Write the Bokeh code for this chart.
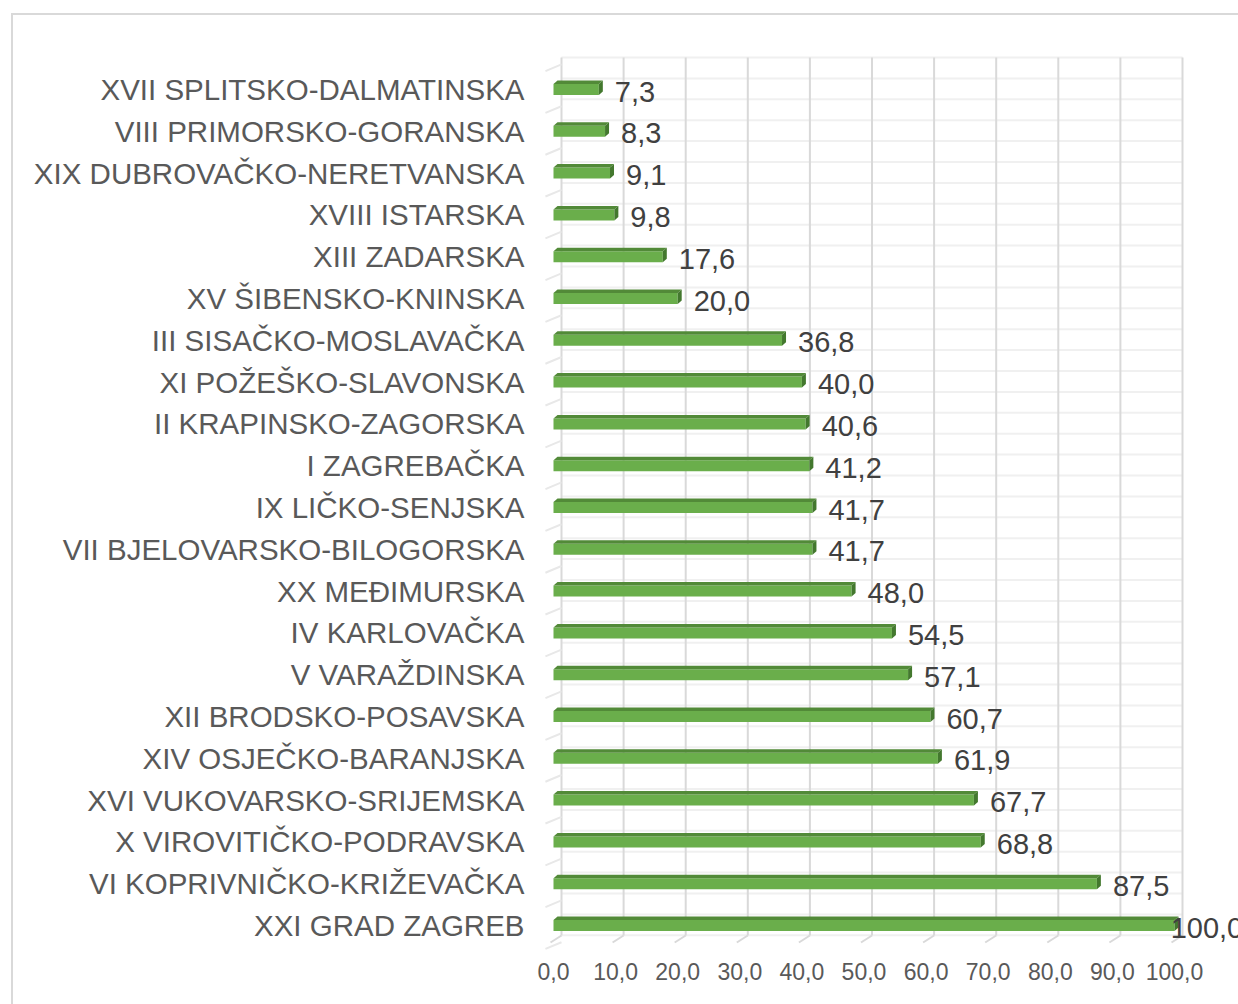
import numpy as np
from bokeh.plotting import figure
from bokeh.models import Range1d, FixedTicker, ColumnDataSource, InlineStyleSheet
from bokeh.core.properties import value
from bokeh.embed import file_html
from bokeh.resources import INLINE

# ---- data (top to bottom) ----
categories = [
    "XVII SPLITSKO-DALMATINSKA",
    "VIII PRIMORSKO-GORANSKA",
    "XIX DUBROVAČKO-NERETVANSKA",
    "XVIII ISTARSKA",
    "XIII ZADARSKA",
    "XV ŠIBENSKO-KNINSKA",
    "III SISAČKO-MOSLAVAČKA",
    "XI POŽEŠKO-SLAVONSKA",
    "II KRAPINSKO-ZAGORSKA",
    "I ZAGREBAČKA",
    "IX LIČKO-SENJSKA",
    "VII BJELOVARSKO-BILOGORSKA",
    "XX MEĐIMURSKA",
    "IV KARLOVAČKA",
    "V VARAŽDINSKA",
    "XII BRODSKO-POSAVSKA",
    "XIV OSJEČKO-BARANJSKA",
    "XVI VUKOVARSKO-SRIJEMSKA",
    "X VIROVITIČKO-PODRAVSKA",
    "VI KOPRIVNIČKO-KRIŽEVAČKA",
    "XXI GRAD ZAGREB",
]
values = [7.3, 8.3, 9.1, 9.8, 17.6, 20.0, 36.8, 40.0, 40.6, 41.2, 41.7,
          41.7, 48.0, 54.5, 57.1, 60.7, 61.9, 67.7, 68.8, 87.5, 100.0]
value_labels = ["7,3", "8,3", "9,1", "9,8", "17,6", "20,0", "36,8", "40,0",
                "40,6", "41,2", "41,7", "41,7", "48,0", "54,5", "57,1", "60,7",
                "61,9", "67,7", "68,8", "87,5", "100,0"]
x_ticks = [0, 10, 20, 30, 40, 50, 60, 70, 80, 90, 100]
x_tick_labels = ["0,0", "10,0", "20,0", "30,0", "40,0", "50,0", "60,0",
                 "70,0", "80,0", "90,0", "100,0"]

FONT = "Liberation Sans"

# ---- geometry (pixel based) ----
W, H = 1238, 1004
frame_left, frame_top = 540, 40
frame_right, frame_bottom = W, 955
px_x = 6.21            # pixels per x unit
px_y = 41.8            # pixels per row
x0_px = 553            # px of x=0 (front)
row0_px = 89           # px of row 0 center
x_start = -(x0_px - frame_left) / px_x
x_end = (frame_right - x0_px) / px_x
y_top = (frame_top - row0_px) / px_y
y_bot = (frame_bottom - row0_px) / px_y

p = figure(width=W, height=H, output_backend="svg", toolbar_location=None,
           x_range=Range1d(x_start, x_end), y_range=Range1d(y_bot, y_top),
           min_border_left=frame_left, min_border_right=0,
           min_border_top=frame_top, min_border_bottom=H - frame_bottom)
p.outline_line_color = None
p.xgrid.visible = False
p.ygrid.visible = False
p.background_fill_color = "white"
p.border_fill_color = "white"

n = len(categories)
idx = np.arange(n)
vals = np.array(values)

# back wall
wall_dx = 8 / px_x
wall_top = (57 - row0_px) / px_y
wall_bot = (935 - row0_px) / px_y
floor_front = (942 - row0_px) / px_y
# faint horizontal lines on wall
hy = np.arange(wall_top, wall_bot + 0.01, 0.5)
p.segment(x0=np.full(len(hy), wall_dx), x1=np.full(len(hy), 100 + wall_dx),
          y0=hy, y1=hy, line_color="#f0f0f0", line_width=2)
# vertical grid lines
gx = np.array(x_ticks, dtype=float)
p.segment(x0=gx + wall_dx, x1=gx + wall_dx, y0=np.full(len(gx), wall_top),
          y1=np.full(len(gx), wall_bot), line_color="#d9d9d9", line_width=2)
p.segment(x0=gx - 3 / px_x, x1=gx + wall_dx, y0=np.full(len(gx), floor_front),
          y1=np.full(len(gx), wall_bot), line_color="#d9d9d9", line_width=2)
# left side diagonals at row boundaries
by = np.arange(-0.5, n, 1.0)
p.segment(x0=np.full(len(by), -1.3), x1=np.full(len(by), wall_dx),
          y0=by + 0.06, y1=by - 0.1, line_color="#e8e8e8", line_width=2)

# bars (3D-ish)
h = 11 / px_y
dx = 4 / px_x
dy = 3.5 / px_y
top = idx - h / 2
bot = idx + h / 2
p.quad(left=0, right=vals, top=top, bottom=bot, fill_color="#6aae4b",
       line_color=None)
top_xs = [[0, v, v + dx, dx] for v in vals]
top_ys = [[t, t, t - dy, t - dy] for t in top]
p.patches(top_xs, top_ys, fill_color="#528a38", line_color=None)
side_xs = [[v, v + dx, v + dx, v] for v in vals]
side_ys = [[t, t - dy, b - dy, b] for t, b in zip(top, bot)]
p.patches(side_xs, side_ys, fill_color="#43782e", line_color=None)

# value labels
src = ColumnDataSource(dict(x=np.minimum(vals, 96.8), y=idx, t=value_labels))
p.text(x="x", y="y", text="t", source=src, x_offset=16, y_offset=2,
       text_font=value(FONT), text_font_size="29px", text_color="#404040",
       text_baseline="middle", text_align="left")

# axes
p.yaxis.ticker = FixedTicker(ticks=list(range(n)))
p.yaxis.major_label_overrides = {i: c for i, c in enumerate(categories)}
p.yaxis.major_label_text_font = FONT
p.yaxis.major_label_text_font_size = "29.5px"
p.yaxis.major_label_text_color = "#595959"
p.yaxis.major_label_standoff = 10
p.yaxis.axis_line_color = None
p.yaxis.major_tick_line_color = None
p.yaxis.minor_tick_line_color = None

p.xaxis.ticker = FixedTicker(ticks=x_ticks)
p.xaxis.major_label_overrides = {t: l for t, l in zip(x_ticks, x_tick_labels)}
p.xaxis.major_label_text_font = FONT
p.xaxis.major_label_text_font_size = "23px"
p.xaxis.major_label_text_color = "#595959"
p.xaxis.major_label_standoff = 1
p.xaxis.axis_line_color = None
p.xaxis.major_tick_line_color = None
p.xaxis.minor_tick_line_color = None

# chart border (top and left edges visible in the reference)
p.stylesheets = [InlineStyleSheet(css=(
    ":host::after { content: ''; position: absolute; left: 11px; top: 13px; "
    "right: 0px; bottom: 0px; border-left: 2px solid #d9d9d9; "
    "border-top: 2px solid #d9d9d9; pointer-events: none; }"))]

open("out.html", "w").write(file_html(p, INLINE))
